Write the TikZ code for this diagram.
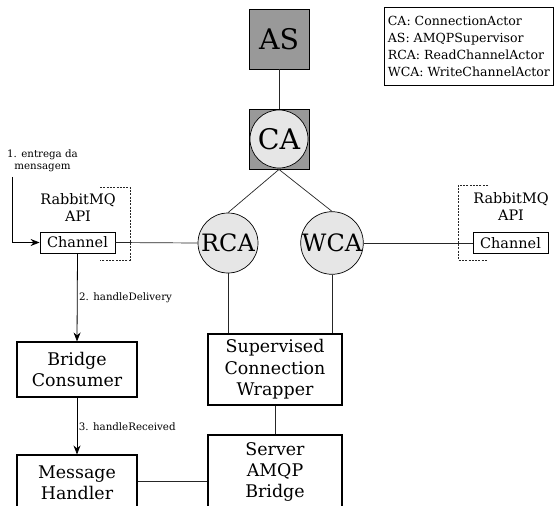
\documentclass[tikz,border=0pt]{standalone}
\usepackage{fontspec}
\setmainfont{DejaVu Serif}
\usetikzlibrary{arrows.meta}
\definecolor{boxgray}{RGB}{153,153,153}
\definecolor{circgray}{RGB}{230,230,230}
\tikzset{
  conn/.style={draw=black!85, line width=0.7bp},
  arr/.style={draw=black, line width=0.8bp, -{Stealth[length=9bp,width=7bp]}},
  sqbox/.style={draw, line width=0.9bp, fill=boxgray, minimum size=60bp, inner sep=0pt, font=\fontsize{28.5}{30}\selectfont},
  actor/.style={draw, line width=0.7bp, circle, fill=circgray, minimum size=58bp, inner sep=0pt},
  chan/.style={draw, line width=0.8bp, minimum width=75bp, minimum height=21bp, inner sep=0pt, font=\fontsize{14.5}{16}\selectfont},
  bigbox/.style={draw, line width=1.1bp, align=center, inner sep=0pt, font=\fontsize{17.5}{21.5}\selectfont},
  apitext/.style={align=center, inner sep=0pt, font=\fontsize{14.5}{17}\selectfont},
  small/.style={inner sep=0pt, font=\fontsize{10.3}{12}\selectfont},
  bracket/.style={draw=black!85, dashed, line width=0.8bp, dash pattern=on 2bp off 1.3bp},
}
\begin{document}
\begin{tikzpicture}[x=1bp, y=-1bp]
\clip (0,0) rectangle (555,506);
\fill[white] (0,0) rectangle (555,506);

% top
\node[sqbox] (AS) at (279,39) {AS};
\node[sqbox] (CAbox) at (279,139) {};
\node[actor, font=\fontsize{28.5}{30}\selectfont] (CA) at (279,139) {CA};
\draw[conn] (AS.south) -- (CAbox.north);

% actors
\node[actor, minimum size=60bp, font=\fontsize{24}{26}\selectfont] (RCA) at (228,243) {RCA};
\node[actor, minimum size=60bp, font=\fontsize{24}{26}\selectfont] (WCA) at (332,243) {WCA};
\draw[conn] (CAbox.south) -- (RCA.north);
\draw[conn] (CAbox.south) -- (WCA.north);

% channels
\node[chan] (ChL) at (77.5,242.5) {Channel};
\node[chan] (ChR) at (510.5,243) {Channel};
\node[apitext] (ApiL) at (78,207.5) {RabbitMQ\\API};
\node[apitext] (ApiR) at (511,206.5) {RabbitMQ\\API};
\draw[bracket] (100,187) -- (130,187) -- (130,260) -- (100,260);
\draw[bracket] (488,185) -- (458,185) -- (458,260) -- (488,260);
\draw[conn] (ChL.east) -- (RCA.west);
\draw[conn] (WCA.east) -- (ChR.west);

% legend
\node[draw, line width=0.8bp, anchor=north west, minimum width=169bp, minimum height=78bp, align=left, inner xsep=1.5bp, inner ysep=2bp, font=\fontsize{12.6}{17}\selectfont] (Legend) at (384,7) {CA: ConnectionActor\\AS: AMQPSupervisor\\RCA: ReadChannelActor\\WCA: WriteChannelActor};

% left column
\coordinate (In) at (12,177);
\node[small, align=center] (InLbl) at (42.5,161) {1. entrega da\\mensagem};
\draw[arr] (In) |- (ChL.west);

\node[bigbox, minimum width=120bp, minimum height=55bp] (BC) at (77,369.5) {Bridge\\Consumer};
\node[bigbox, minimum width=120bp, minimum height=56bp] (MH) at (77,483) {Message\\Handler};
\draw[arr] (ChL.south) -- node[small, anchor=west, xshift=1.5bp, yshift=-0.5bp] (L2) {2. handleDelivery} (BC.north);
\draw[arr] (BC.south) -- node[small, anchor=west, xshift=1.5bp, yshift=-1bp] (L3) {3. handleReceived} (MH.north);

% right column
\node[bigbox, minimum width=134bp, minimum height=71bp] (SCW) at (275,369.5) {Supervised\\Connection\\Wrapper};
\node[bigbox, minimum width=134bp, minimum height=74bp] (SAB) at (275,472) {Server\\AMQP\\Bridge};
\draw[conn] (RCA.south) -- (RCA.south |- SCW.north);
\draw[conn] (WCA.south) -- (WCA.south |- SCW.north);
\draw[conn] (SCW.south) -- (SAB.north);
\draw[conn] (MH.east |- 0,481) -- (SAB.west |- 0,481);
\end{tikzpicture}
\end{document}
